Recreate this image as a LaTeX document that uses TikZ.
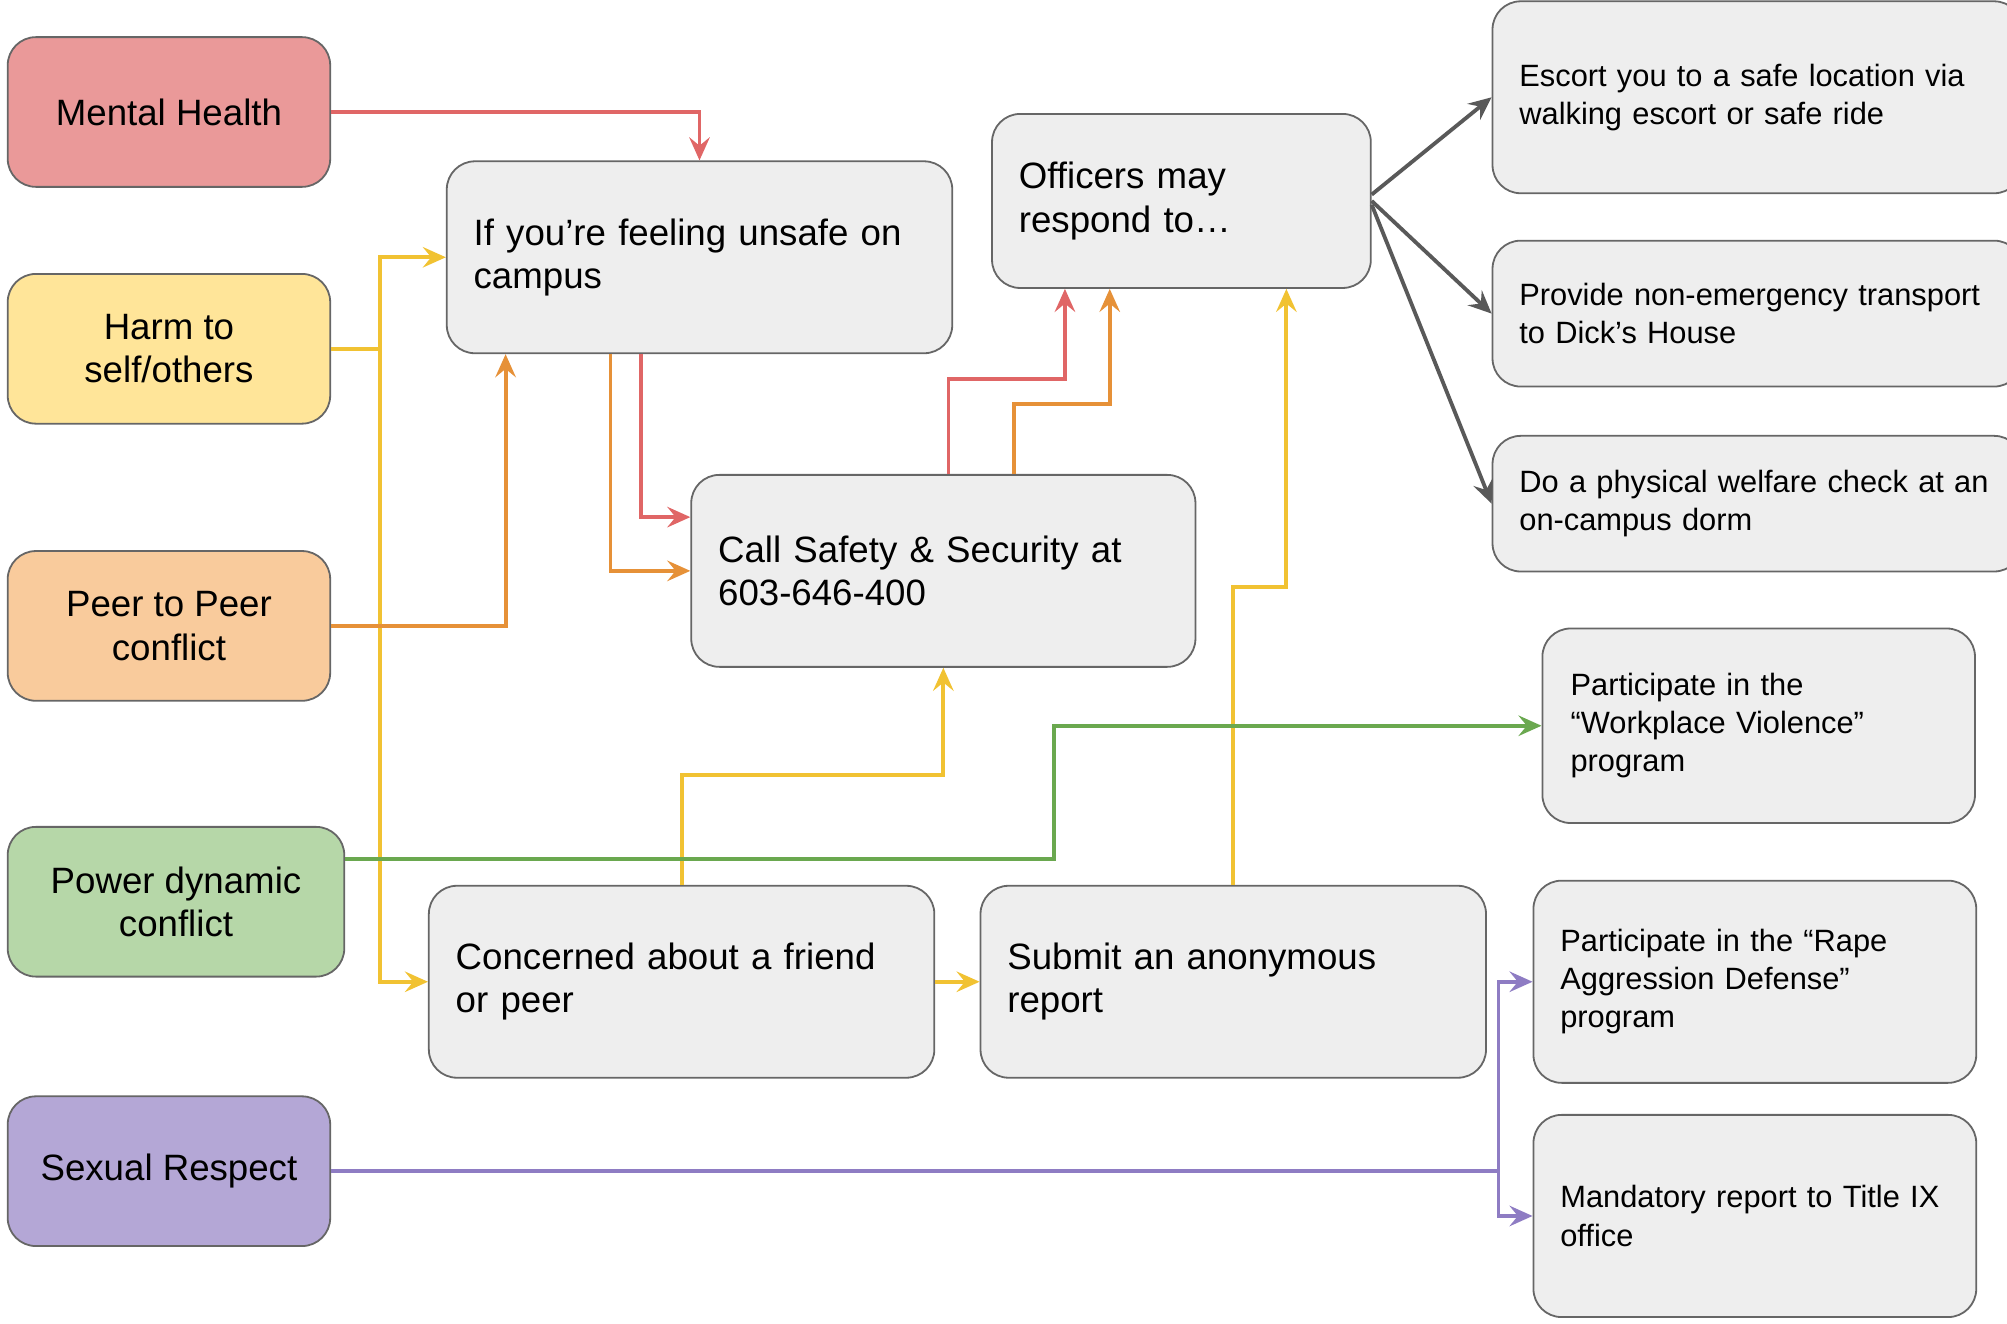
\documentclass[tikz,border=0pt]{standalone}
\usepackage{fontspec}
\setmainfont{Liberation Sans}
\usetikzlibrary{arrows.meta,calc}
\definecolor{mhfill}{HTML}{EA9999}
\definecolor{mhline}{HTML}{E06666}
\definecolor{harmfill}{HTML}{FFE599}
\definecolor{harmline}{HTML}{F1C232}
\definecolor{peerfill}{HTML}{F9CB9C}
\definecolor{peerline}{HTML}{E69138}
\definecolor{powerfill}{HTML}{B6D7A8}
\definecolor{powerline}{HTML}{6AA84F}
\definecolor{sexfill}{HTML}{B4A7D6}
\definecolor{sexline}{HTML}{8E7CC3}
\definecolor{stepfill}{HTML}{EEEEEE}
\definecolor{boxedge}{HTML}{666666}
\definecolor{officer}{HTML}{595959}
\newcommand{\bigfont}{\fontsize{16.3}{19.3}\selectfont}
\newcommand{\sidefont}{\fontsize{13.7}{17}\selectfont}

\begin{document}
\begin{tikzpicture}[x=0.02cm,y=-0.02cm,>={Stealth[length=0.36cm,width=0.32cm,inset=0.13cm]},
    topic/.style={draw=boxedge,line width=0.8pt,rounded corners=0.44cm,
                  minimum width=5.04cm,minimum height=2.34cm,align=center,font=\bigfont},
    action/.style={draw=boxedge,fill=stepfill,line width=0.8pt,rounded corners=0.44cm,
                   inner xsep=0.42cm,align=left},
    wide/.style={action,text width=7.06cm,minimum height=3cm,font=\bigfont},
    side/.style={action,font=\sidefont},
    link/.style={->,line width=1.7pt}]
  \useasboundingbox (0,0) rectangle (1568,1034);
  \clip (0,0) rectangle (1568,1034);

  \node[topic,fill=mhfill] (mental) at (132,87.5) {Mental Health};
  \node[topic,fill=harmfill] (harm) at (132,272.5) {Harm to\\self/others};
  \node[topic,fill=peerfill] (peer) at (132,489) {Peer to Peer\\conflict};
  \node[topic,fill=powerfill,minimum width=5.26cm] (power) at (137.5,704.5) {Power dynamic\\conflict};
  \node[topic,fill=sexfill] (sexual) at (132,915) {Sexual Respect};

  \node[wide] (unsafe) at (546.5,201) {If you’re feeling unsafe on\\campus};
  \node[wide,text width=5.08cm,minimum height=2.72cm] (officers) at (923,157) {Officers may\\respond to…};
  \node[wide,text width=7.04cm] (call) at (737,446) {Call Safety \& Security at\\603-646-400};
  \node[wide] (concern) at (532.5,767) {Concerned about a friend\\or peer};
  \node[wide] (submit) at (963.5,767) {Submit an anonymous\\report};

  \node[side,text width=7.44cm,minimum height=3cm] (escort) at (1373,76) {Escort you to a safe location via\\walking escort or safe ride};
  \node[side,text width=7.44cm,minimum height=2.28cm] (transport) at (1373,245) {Provide non-emergency transport\\to Dick’s House};
  \node[side,text width=7.44cm,minimum height=2.12cm] (welfare) at (1373,393.5) {Do a physical welfare check at an\\on-campus dorm};
  \node[side,text width=5.88cm,inner xsep=0.44cm,minimum height=3.04cm] (workplace) at (1374,567) {Participate in the\\“Workplace Violence”\\program};
  \node[side,text width=6.08cm,minimum height=3.16cm] (rape) at (1371,767) {Participate in the “Rape\\Aggression Defense”\\program};
  \node[side,text width=6.08cm,minimum height=3.16cm] (title) at (1371,950) {Mandatory report to Title IX\\office};

  \draw[link,harmline] (harm.east) -- ++(38,0) coordinate (split) |- (unsafe.west);
  \draw[link,harmline] (split) |- (concern.west);
  \draw[link,harmline] ($(concern.north)+(0.5,0)$) -- ++(0,-86) -| (call.south);
  \draw[link,harmline] (concern.east) -- (submit.west);
  \draw[link,harmline] (submit.north) -- ++(0,-233) -| ($(officers.south)+(82,0)$);

  \draw[link,peerline] (peer.east) -| ($(unsafe.south)+(-151.5,0)$);
  \draw[link,peerline] ($(unsafe.south)+(-69.5,0)$) |- (call.west);
  \draw[link,peerline] ($(call.north)+(55,0)$) -- ++(0,-55) -| ($(officers.south)+(-56,0)$);

  \draw[link,mhline] (mental.east) -| (unsafe.north);
  \draw[link,mhline] ($(unsafe.south)+(-45.5,0)$) |- ($(call.west)+(0,-42)$);
  \draw[link,mhline] ($(call.north)+(4,0)$) -- ++(0,-74) -| ($(officers.south)+(-91,0)$);

  \draw[link,powerline] ($(power.east)+(0,-33.5)$) -- ++(554,0) |- (workplace.west);

  \draw[link,sexline] (sexual.east) -- ++(912,0) coordinate (fork) |- (rape.west);
  \draw[link,sexline] (fork) |- (title.west);

  \draw[link,officer] ($(officers.east)+(0,-5)$) -- (escort.west);
  \draw[link,officer] (officers.east) -- (transport.west);
  \draw[link,officer] ($(officers.east)+(0,3)$) -- (welfare.west);
\end{tikzpicture}
\end{document}
